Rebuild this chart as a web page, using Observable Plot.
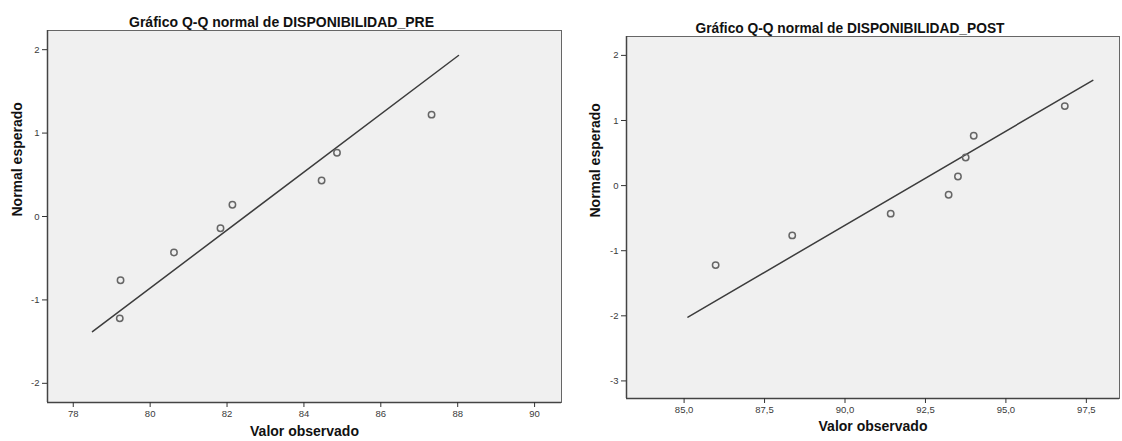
<!DOCTYPE html>
<html><head><meta charset="utf-8">
<script src="https://cdn.jsdelivr.net/npm/d3@7"></script>
<script src="https://cdn.jsdelivr.net/npm/@observablehq/plot@0.6"></script>
<style>
body{margin:0;background:#fff;width:1122px;height:441px;position:relative;overflow:hidden}
#pre,#post{position:absolute;top:0}
#pre{left:0}
#post{left:564px}
</style></head>
<body><div id="pre"></div><div id="post"></div>
<script>
// Expected normal values (van der Waerden, n = 8)
const expectedNormal = [-1.221, -0.765, -0.431, -0.140, 0.140, 0.431, 0.765, 1.221];
const preObserved  = [79.21, 79.23, 80.62, 81.83, 82.14, 84.46, 84.86, 87.32];
const postObserved = [85.98, 88.36, 91.42, 93.22, 93.51, 93.75, 94.00, 96.83];
// Reference line endpoints
const preLineX  = [78.50, 88.02];
const preLineY  = [-1.38, 1.93];
const postLineX = [85.12, 97.70];
const postLineY = [-2.02, 1.617];
// Ticks
const preXTicks  = [78, 80, 82, 84, 86, 88, 90];
const preYTicks  = [-2, -1, 0, 1, 2];
const postXTicks = [85, 87.5, 90, 92.5, 95, 97.5];
const postYTicks = [-3, -2, -1, 0, 1, 2];
// Texts
const preTitle  = "Gráfico Q-Q normal de DISPONIBILIDAD_PRE";
const postTitle = "Gráfico Q-Q normal de DISPONIBILIDAD_POST";
const xLabel = "Valor observado";
const yLabel = "Normal esperado";

const FONT = "'Liberation Sans',Arial,sans-serif";

function panel(o) {
  const pts = o.observed.map((v, i) => ({x: v, y: expectedNormal[i]}));
  const line = o.lineX.map((v, i) => ({x: v, y: o.lineY[i]}));
  const svg = Plot.plot({
    width: o.width, height: 441,
    marginLeft: o.ml, marginRight: o.mr, marginTop: o.mt, marginBottom: o.mb,
    style: {background: "transparent", fontFamily: FONT, fontSize: "9.5px", color: "#444"},
    x: {domain: o.xDomain, label: null},
    y: {domain: o.yDomain, label: null},
    marks: [
      Plot.frame({fill: "#f0f0f0", stroke: "#666", strokeWidth: 1}),
      Plot.ruleX([o.xDomain[0]], {stroke: "#444", strokeWidth: 1.5}),
      Plot.ruleY([o.yDomain[0]], {stroke: "#444", strokeWidth: 1.5}),
      Plot.axisX({ticks: o.xTicks, tickFormat: o.xFmt, tickSize: 5, tickPadding: 3, stroke: "#333", fill: "#3a3a3a", label: null}),
      Plot.axisY({ticks: o.yTicks, tickFormat: d => String(d), tickSize: 5, tickPadding: 3, stroke: "#333", fill: "#3a3a3a", label: null}),
      Plot.line(line, {x: "x", y: "y", stroke: "#3c3c3c", strokeWidth: 1.5}),
      Plot.dot(pts, {x: "x", y: "y", r: 3.2, stroke: "#666", strokeWidth: 1.5, fill: "none"}),
      Plot.text([o.title], {frameAnchor: "top", dy: -14, dx: -23, fontWeight: "bold", fontSize: 15, fill: "#111", fontFamily: FONT}),
      Plot.text([xLabel], {frameAnchor: "bottom", dy: o.xlDy, fontWeight: "bold", fontSize: 14, fill: "#111", fontFamily: FONT}),
      Plot.text([yLabel], {frameAnchor: "left", dx: o.ylDx, rotate: -90, fontWeight: "bold", fontSize: 14, fill: "#111", fontFamily: FONT})
    ]
  });
  d3.select(svg).selectAll("text").filter(function() { return this.textContent === o.title; })
    .attr("textLength", o.titleLen).attr("lengthAdjust", "spacingAndGlyphs");
  return svg;
}

document.getElementById("pre").append(panel({
  observed: preObserved, lineX: preLineX, lineY: preLineY,
  width: 564, ml: 47, mr: 3, mt: 30, mb: 39,
  xDomain: [77.33, 90.70], yDomain: [-2.23, 2.23],
  xTicks: preXTicks, yTicks: preYTicks, xFmt: d => String(d),
  title: preTitle, titleLen: 305, xlDy: 33, ylDx: -30
}));

document.getElementById("post").append(panel({
  observed: postObserved, lineX: postLineX, lineY: postLineY,
  width: 558, ml: 62, mr: 3, mt: 36, mb: 43,
  xDomain: [83.21, 98.53], yDomain: [-3.27, 2.29],
  xTicks: postXTicks, yTicks: postYTicks, xFmt: d => d.toFixed(1).replace(".", ","),
  title: postTitle, titleLen: 309, xlDy: 32, ylDx: -31
}));
</script>
</body></html>
